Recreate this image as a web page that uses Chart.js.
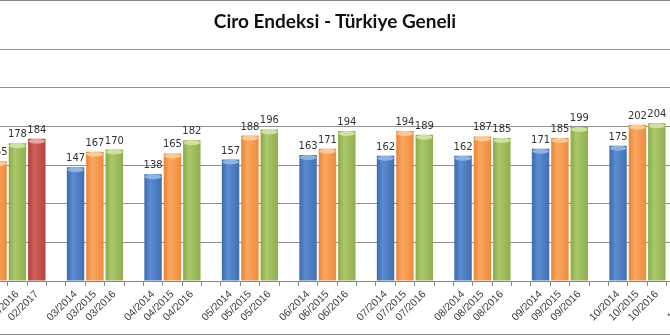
<!DOCTYPE html>
<html>
<head>
<meta charset="utf-8">
<script src="https://cdn.jsdelivr.net/npm/chart.js@4.4.0/dist/chart.umd.min.js"></script>
<style>
  html, body { margin: 0; padding: 0; background: #fff; }
  #frame { position: relative; width: 670px; height: 335px; overflow: hidden; background: #fff; }
  #frame canvas { position: absolute; left: -31px; top: 0; }
  .rule { position: absolute; left: 0; width: 670px; height: 1px; background: #8a8a8a; }
  #title { position: absolute; left: 0; top: 10px; width: 670px; text-align: center;
           font: bold 19px/22.8px Lato, sans-serif; color: #111; }
</style>
</head>
<body>
<div id="frame">
  <canvas id="ciro_chart" width="775" height="335"></canvas>
  <div id="title">Ciro Endeksi - Türkiye Geneli</div>
  <div class="rule" style="top:0"></div>
  <div class="rule" style="top:334px"></div>
</div>
<script>
// Chart data
var months = ['02', '03', '04', '05', '06', '07', '08', '09', '10', '11'];
var years = ['2014', '2015', '2016', '2017'];
var values2014 = [null, 147, 138, 157, 163, 162, 162, 171, 175, null];
var values2015 = [155, 167, 165, 188, 171, 194, 187, 185, 202, null];
var values2016 = [178, 170, 182, 196, 194, 189, 185, 199, 204, null];
var values2017 = [184];
var yTicks = [0, 50, 100, 150, 200, 250, 300];

// Colors per year: [left edge, highlight, right edge, top cap]
var palette = {
  '2014': ['#3a69ab', '#5b8cd2', '#416fb0', '#8fb3e2'],
  '2015': ['#e9812e', '#faa760', '#ee8a3a', '#fcc996'],
  '2016': ['#87a946', '#abc86c', '#8fae4c', '#cde2a0'],
  '2017': ['#ac3d3a', '#d0605c', '#b4453f', '#e9a3a0']
};

// Build one category per bar, with an empty category between months
var labels = [];
var values = [];
var yearOf = [];
var series = [values2014, values2015, values2016, values2017];
months.forEach(function (m, i) {
  if (i > 0) {
    labels.push('');
    values.push(null);
    yearOf.push(null);
  }
  series.forEach(function (s, k) {
    if (i < s.length) {
      labels.push(m + '/' + years[k]);
      values.push(s[i]);
      yearOf.push(years[k]);
    }
  });
});

// Lighter cap on top of each bar
var capPlugin = {
  id: 'caps',
  afterDatasetsDraw: function (chart) {
    var ctx = chart.ctx;
    var meta = chart.getDatasetMeta(0);
    ctx.save();
    meta.data.forEach(function (bar, i) {
      if (values[i] === null) return;
      var pal = palette[yearOf[i]];
      ctx.fillStyle = pal[3];
      ctx.beginPath();
      ctx.ellipse(bar.x, bar.y + 2.5, bar.width / 2 - 0.5, 2.5, 0, 0, Math.PI * 2);
      ctx.fill();
    });
    ctx.restore();
  }
};

// Value labels above bars
var valueLabels = {
  id: 'valueLabels',
  afterDatasetsDraw: function (chart) {
    var ctx = chart.ctx;
    var meta = chart.getDatasetMeta(0);
    ctx.save();
    ctx.font = '10px "DejaVu Sans"';
    ctx.fillStyle = '#333333';
    ctx.textAlign = 'center';
    ctx.textBaseline = 'alphabetic';
    meta.data.forEach(function (bar, i) {
      if (values[i] === null) return;
      ctx.fillText(String(values[i]), bar.x, bar.y - 6);
    });
    ctx.restore();
  }
};

var ctx = document.getElementById('ciro_chart');

var config = {
  type: 'bar',
  data: {
    labels: labels,
    datasets: [{
      data: values,
      barPercentage: 0.9,
      categoryPercentage: 1.0,
      borderWidth: 0,
      backgroundColor: function (c) {
        var pal = palette[yearOf[c.dataIndex]];
        if (!pal) return 'rgba(0,0,0,0)';
        var chart = c.chart;
        var xs = chart.scales.x;
        if (!chart.chartArea || !xs) return pal[1];
        var cx = xs.getPixelForValue(c.dataIndex);
        var g = chart.ctx.createLinearGradient(cx - 9, 0, cx + 9, 0);
        g.addColorStop(0, pal[0]);
        g.addColorStop(0.35, pal[1]);
        g.addColorStop(1, pal[2]);
        return g;
      }
    }]
  },
  options: {
    responsive: false,
    animation: false,
    devicePixelRatio: 1,
    layout: { padding: { top: 49, left: 0, right: 0, bottom: 0 } },
    plugins: {
      legend: { display: false },
      title: { display: false },
      tooltip: { enabled: false }
    },
    scales: {
      x: {
        grid: {
          display: true,
          drawOnChartArea: false,
          drawTicks: true,
          tickLength: 5,
          color: '#868686'
        },
        border: { display: true, color: '#868686' },
        ticks: {
          autoSkip: false,
          maxRotation: 45,
          minRotation: 45,
          padding: 2,
          color: '#404040',
          font: { family: 'Liberation Sans', size: 10.5 }
        },
        afterFit: function (scale) {
          scale.height = 54;
          scale.paddingLeft = 0;
          scale.paddingRight = 0;
        }
      },
      y: {
        min: 0,
        max: 300,
        grid: { color: '#8f8f8f', drawTicks: false },
        border: { display: false },
        ticks: { display: false },
        afterBuildTicks: function (scale) {
          scale.ticks = yTicks.map(function (v) { return { value: v }; });
        }
      }
    }
  },
  plugins: [capPlugin, valueLabels]
};

var myChart = new Chart(ctx, config);
</script>
</body>
</html>
